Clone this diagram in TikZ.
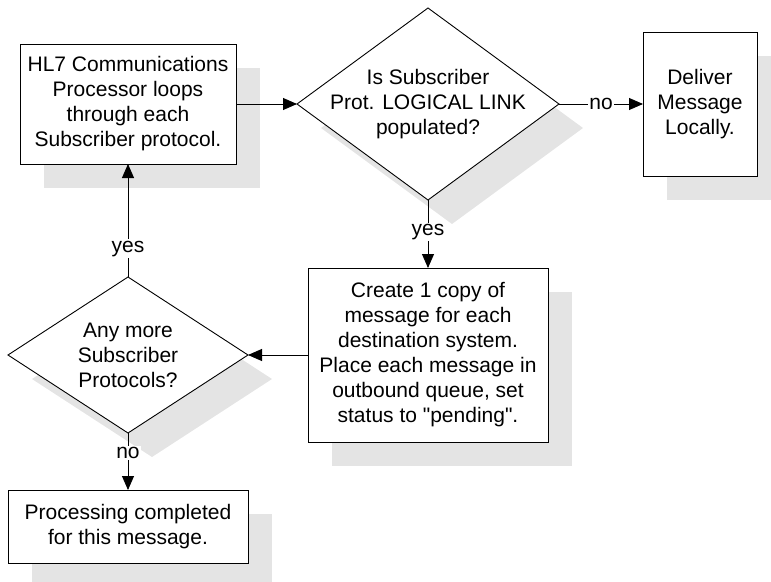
\documentclass[tikz,border=0pt]{standalone}
\usepackage{fontspec}
\setmainfont{Liberation Sans}[Ligatures=TeXOff]
\usetikzlibrary{shapes.geometric,arrows.meta,shadows}
\definecolor{shadegray}{RGB}{228,228,228}
\begin{document}
\begin{tikzpicture}[x=1pt,y=-1pt,
  font=\fontsize{21}{25}\selectfont,
  every node/.style={outer sep=0pt},
  boxshadow/.style={general shadow={shadow xshift=24pt,shadow yshift=-24pt,fill=shadegray,draw=none}},
  procbox/.style={draw,fill=white,line width=0.9pt,align=center,inner sep=0pt,boxshadow},
  decision/.style={diamond,draw,fill=white,line width=0.9pt,inner sep=0pt,boxshadow},
  question/.style={label={[align=center,inner sep=0pt]center:{#1}}},
  flow/.style={line width=0.9pt,-{Triangle[length=14pt,width=12pt]}},
  tag/.style={fill=white,inner sep=1.5pt}]
\useasboundingbox (0,0) rectangle (771,581);

% process steps and decisions
\node[procbox,minimum width=216pt,minimum height=120pt] (loop) at (128,104)
  {HL7 Communications\\Processor loops\\through each\\Subscriber protocol.};
\node[decision,minimum width=262pt,minimum height=192pt,
  question={Is Subscriber\\Prot. LOGICAL LINK\\populated?}] (linkq) at (428,104) {};
\node[procbox,minimum width=114pt,minimum height=144pt] (local) at (700,104)
  {Deliver\\Message\\Locally.};
\node[procbox,minimum width=240pt,minimum height=174pt] (copies) at (428,355)
  {Create 1 copy of\\message for each\\destination system.\\Place each message in\\outbound queue, set\\status to "pending".};
\node[decision,minimum width=240pt,minimum height=156pt,
  question={Any more\\Subscriber\\Protocols?}] (moreq) at (128,355) {};
\node[procbox,minimum width=240pt,minimum height=73pt] (done) at (128,526.5)
  {Processing completed\\for this message.};

% connectors
\draw[flow] (loop.east) -- (linkq.west);
\draw[flow] (linkq.east) -- node[tag] {no} (local.west);
\draw[flow] (linkq.south) -- node[tag,pos=0.47] {yes} (copies.north);
\draw[flow] (copies.west) -- (moreq.east);
\draw[flow] (moreq.north) -- node[tag,pos=0.25] {yes} (loop.south);
\draw[flow] (moreq.south) -- node[tag,pos=0.35] {no} (done.north);
\end{tikzpicture}
\end{document}
